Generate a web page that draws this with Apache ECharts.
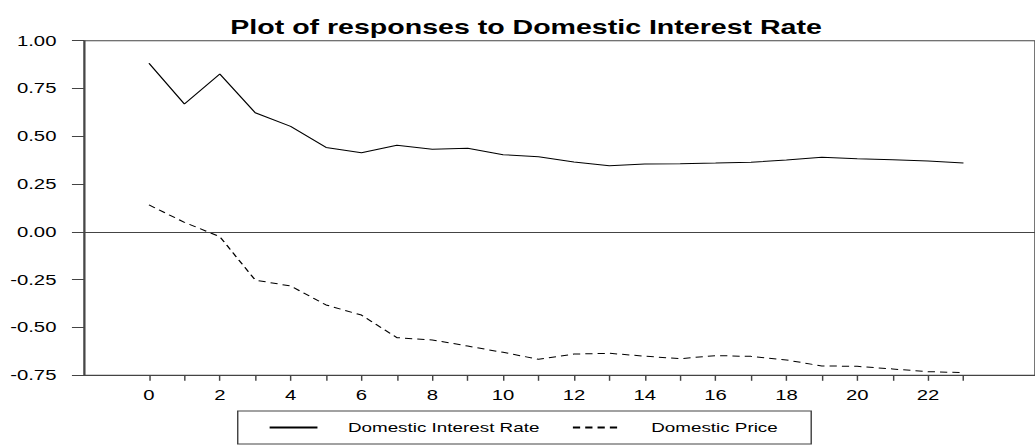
<!DOCTYPE html>
<html>
<head>
<meta charset="utf-8">
<script src="https://cdn.jsdelivr.net/npm/echarts@6/dist/echarts.min.js"></script>
<style>
  html, body { margin: 0; padding: 0; background: #fff; overflow: hidden; }
  #wrap { width: 1035px; height: 445px; overflow: hidden; position: relative; }
  #chart { width: 714px; height: 445px; transform: scaleX(1.44958); transform-origin: 0 0; }
</style>
</head>
<body>
<div id="wrap"><div id="chart"></div></div>
<script>
// ---- data ----
const titleText = 'Plot of responses to Domestic Interest Rate';
const seriesNames = ['Domestic Interest Rate', 'Domestic Price'];
const periods = [0,1,2,3,4,5,6,7,8,9,10,11,12,13,14,15,16,17,18,19,20,21,22,23];
const interestRate = [0.882,0.669,0.826,0.623,0.552,0.442,0.414,0.453,0.432,0.437,0.404,0.393,0.366,0.346,0.355,0.357,0.360,0.364,0.376,0.390,0.383,0.378,0.371,0.360];
const domesticPrice = [0.141,0.050,-0.025,-0.252,-0.283,-0.382,-0.435,-0.553,-0.565,-0.597,-0.630,-0.666,-0.639,-0.635,-0.650,-0.663,-0.647,-0.651,-0.670,-0.701,-0.703,-0.717,-0.731,-0.736];
const xTickLabels = [0,2,4,6,8,10,12,14,16,18,20,22];
const yTicks = [-0.75,-0.50,-0.25,0.00,0.25,0.50,0.75,1.00];

const FONT = 'Liberation Sans, Arial, Helvetica, sans-serif';
const AX = '#444';

const chart = echarts.init(document.getElementById('chart'), null, { renderer: 'svg' });
chart.setOption({
  animation: false,
  backgroundColor: '#fff',
  title: {
    text: titleText,
    left: 357.9, top: 12,
    textAlign: 'center',
    textStyle: { fontFamily: FONT, fontWeight: 'bold', fontSize: 19.7, color: '#000' }
  },
  legend: {
    data: seriesNames,
    left: 164, top: 411,
    orient: 'horizontal',
    itemWidth: 33, itemHeight: 10, itemGap: 22,
    padding: [10, 23, 10, 21],
    borderColor: AX, borderWidth: 1,
    itemStyle: { color: 'rgba(0,0,0,0)', borderColor: 'rgba(0,0,0,0)', borderWidth: 0, opacity: 0 },
    textStyle: { fontFamily: FONT, fontSize: 13, color: '#000', padding: [0, 0, 0, 16] },
    selectedMode: false
  },
  grid: {
    left: 57.93, right: -10, top: 40.7, bottom: 69.7,
    show: true, borderColor: AX, borderWidth: 1, backgroundColor: 'transparent',
    containLabel: false
  },
  xAxis: {
    type: 'value',
    min: -1.836, max: 25.02,
    axisLine: { onZero: false, lineStyle: { color: AX, width: 1 } },
    axisTick: { show: true, length: 5.5, lineStyle: { color: AX }, customValues: periods },
    axisLabel: { customValues: xTickLabels, fontFamily: FONT, fontSize: 14, color: '#000', margin: 13 },
    splitLine: { show: false }
  },
  yAxis: {
    type: 'value',
    min: -0.75, max: 1.0, interval: 0.25,
    axisLine: { show: true, onZero: false, lineStyle: { color: AX, width: 1 } },
    axisTick: { show: true, length: 8.3, lineStyle: { color: AX } },
    axisLabel: { fontFamily: FONT, fontSize: 14, color: '#000', margin: 19, formatter: v => v.toFixed(2) },
    splitLine: { show: false }
  },
  series: [
    {
      name: seriesNames[0],
      type: 'line',
      data: periods.map((p, i) => [p, interestRate[i]]),
      showSymbol: false, symbol: 'none',
      lineStyle: { color: '#000', width: 1 },
      itemStyle: { color: '#000' },
      markLine: {
        silent: true, symbol: 'none',
        label: { show: false },
        lineStyle: { color: AX, type: 'solid', width: 1 },
        data: [{ yAxis: 0 }]
      }
    },
    {
      name: seriesNames[1],
      type: 'line',
      data: periods.map((p, i) => [p, domesticPrice[i]]),
      showSymbol: false, symbol: 'none',
      lineStyle: { color: '#000', width: 1, type: [5, 3.5] },
      itemStyle: { color: '#000' }
    }
  ]
});
</script>
</body>
</html>
